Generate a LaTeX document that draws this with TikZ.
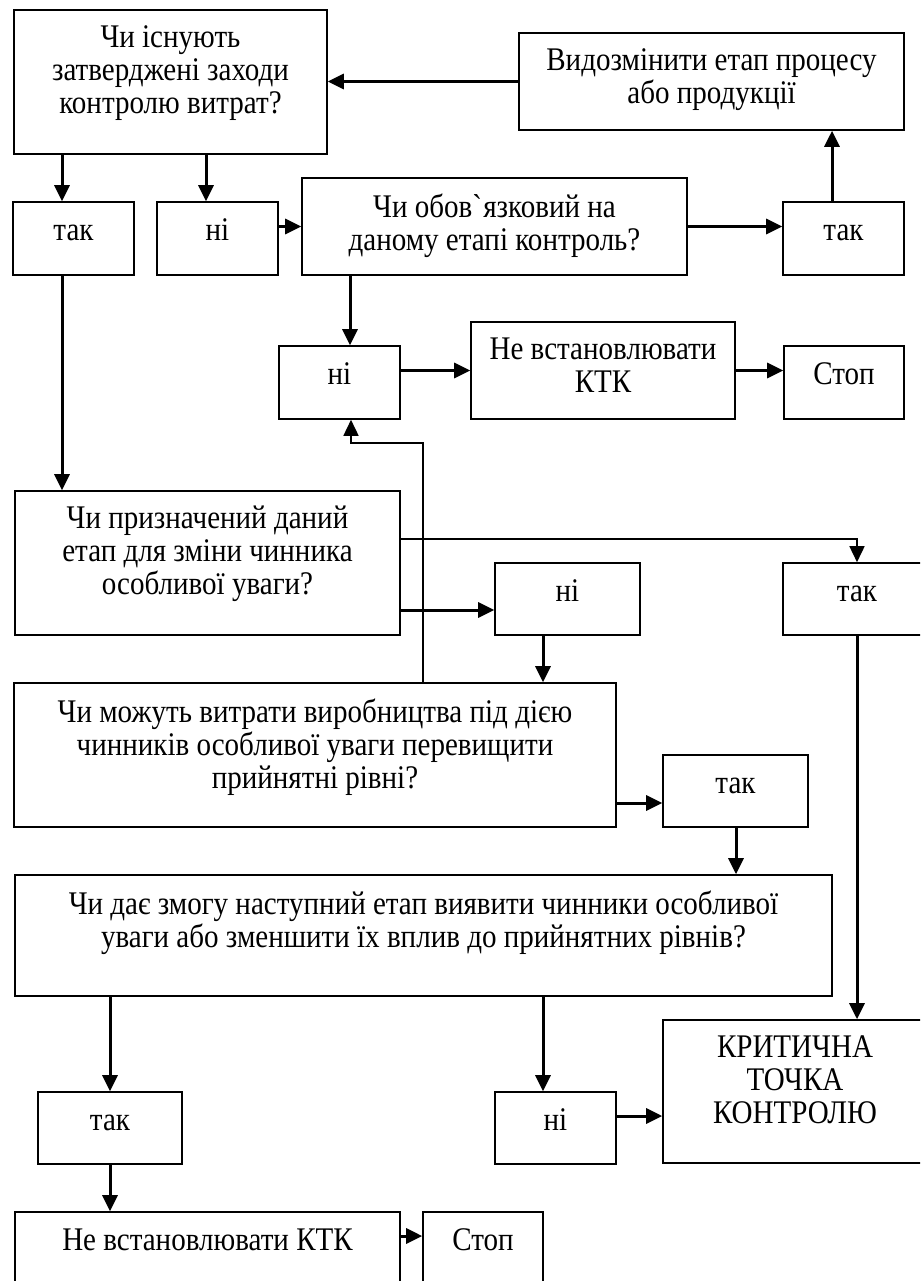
\documentclass[tikz,border=0pt]{standalone}
\usepackage{fontspec}
\setmainfont[FakeStretch=0.88]{Liberation Serif}
\usetikzlibrary{arrows.meta,positioning}

\tikzset{
  box/.style={draw, line width=1.6pt, inner sep=0pt},
  txt/.style={align=center, inner sep=0pt, font=\fontsize{33}{33}\selectfont, execute at begin node=\strut},
  arr/.style={line width=3pt, -{Triangle[length=16pt,width=15pt]}},
  thinarr/.style={line width=1.6pt, -{Triangle[length=16pt,width=15pt]}},
}

\begin{document}
\begin{tikzpicture}[x=1pt,y=-1pt]
\useasboundingbox (0,0) rectangle (920,1281);
\clip (0,0) rectangle (920,1281);

% boxes
\node[box, minimum width=313pt, minimum height=144pt] (q1) at (170.5,82) {};
\node[box, minimum width=385pt, minimum height=97pt] (modify) at (711.5,81.5) {};
\node[box, minimum width=121pt, minimum height=73pt] (yes1) at (73.5,238.5) {};
\node[box, minimum width=121pt, minimum height=73pt] (no1) at (217.5,238.5) {};
\node[box, minimum width=385pt, minimum height=97pt] (q2) at (494.5,226.5) {};
\node[box, minimum width=121pt, minimum height=73pt] (yes2) at (843.5,238.5) {};
\node[box, minimum width=121pt, minimum height=73pt] (no2) at (339.5,382.5) {};
\node[box, minimum width=264pt, minimum height=97pt] (skip1) at (603,370.5) {};
\node[box, minimum width=120pt, minimum height=73pt] (stop1) at (844,382.5) {};
\node[box, minimum width=385pt, minimum height=144pt] (q3) at (207.5,563) {};
\node[box, minimum width=145pt, minimum height=72pt] (no3) at (567.5,599) {};
\node[box, minimum width=148pt, minimum height=72pt] (yes3) at (857,599) {};
\node[box, minimum width=602pt, minimum height=144pt] (q4) at (315,755) {};
\node[box, minimum width=145pt, minimum height=72pt] (yes4) at (735.5,791) {};
\node[box, minimum width=817pt, minimum height=121pt] (q5) at (423.5,935.5) {};
\node[box, minimum width=144pt, minimum height=72pt] (yes5) at (110,1128) {};
\node[box, minimum width=121pt, minimum height=72pt] (no5) at (555.5,1128) {};
\node[box, minimum width=264pt, minimum height=143pt] (ctp) at (795,1091.5) {};
\node[box, minimum width=385pt, minimum height=97pt] (skip2) at (207.5,1260.5) {};
\node[box, minimum width=120pt, minimum height=73pt] (stop2) at (483,1248.5) {};

% texts
\node[txt, below=16pt of q1.north] (q1t) {Чи існують\\затверджені заходи\\контролю витрат?};
\node[txt, below=16pt of modify.north] (modifyt) {Видозмінити етап процесу\\або продукції};
\node[txt, below=16pt of yes1.north] (yes1t) {так};
\node[txt, below=16pt of no1.north] (no1t) {ні};
\node[txt, below=16pt of q2.north] (q2t) {Чи обов\textasciigrave язковий на\\даному етапі контроль?};
\node[txt, below=16pt of yes2.north] (yes2t) {так};
\node[txt, below=16pt of no2.north] (no2t) {ні};
\node[txt, below=16pt of skip1.north] (skip1t) {Не встановлювати\\КТК};
\node[txt, below=16pt of stop1.north] (stop1t) {Стоп};
\node[txt, below=16pt of q3.north] (q3t) {Чи призначений даний\\етап для зміни чинника\\особливої уваги?};
\node[txt, below=16pt of no3.north] (no3t) {ні};
\node[txt, below=16pt of yes3.north] (yes3t) {так};
\node[txt, below=16pt of q4.north] (q4t) {Чи можуть витрати виробництва під дією\\чинників особливої уваги перевищити\\прийнятні рівні?};
\node[txt, below=16pt of yes4.north] (yes4t) {так};
\node[txt, below=16pt of q5.north] (q5t) {Чи дає змогу наступний етап виявити чинники особливої\\уваги або зменшити їх вплив до прийнятних рівнів?};
\node[txt, below=16pt of yes5.north] (yes5t) {так};
\node[txt, below=16pt of no5.north] (no5t) {ні};
\node[txt, below=16pt of ctp.north] (ctpt) {КРИТИЧНА\\ТОЧКА\\КОНТРОЛЮ};
\node[txt, below=16pt of skip2.north] (skip2t) {Не встановлювати КТК};
\node[txt, below=16pt of stop2.north] (stop2t) {Стоп};

% connectors
\draw[arr] (modify.west) -- (q1.east |- modify.west);
\draw[arr] (62,0 |- q1.south) -- (62,0 |- yes1.north);
\draw[arr] (206,0 |- q1.south) -- (206,0 |- no1.north);
\draw[arr] (no1.east |- q2.west) -- (q2.west);
\draw[arr] (q2.east) -- (yes2.west |- q2.east);
\draw[arr] (832,0 |- yes2.north) -- (832,0 |- modify.south);
\draw[arr] (350,0 |- q2.south) -- (350,0 |- no2.north);
\draw[arr] (no2.east |- skip1.west) -- (skip1.west);
\draw[arr] (skip1.east) -- (stop1.west |- skip1.east);
\draw[arr] (62,0 |- yes1.south) -- (62,0 |- q3.north);
\draw[thinarr] (q3.east |- 0,539) -| (yes3.north);
\draw[arr] (q3.east |- 0,610) -- (no3.west |- 0,610);
\draw[arr] (543,0 |- no3.south) -- (543,0 |- q4.north);
\draw[thinarr] (423,0 |- q4.north) |- (351,443) -- (351,0 |- no2.south);
\draw[arr] (q4.east |- 0,803) -- (yes4.west |- 0,803);
\draw[arr] (736,0 |- yes4.south) -- (736,0 |- q5.north);
\draw[arr] (yes3.south) -- (yes3.south |- ctp.north);
\draw[arr] (yes5.north |- q5.south) -- (yes5.north);
\draw[arr] (543,0 |- q5.south) -- (543,0 |- no5.north);
\draw[arr] (no5.east |- 0,1116) -- (ctp.west |- 0,1116);
\draw[arr] (yes5.south) -- (yes5.south |- skip2.north);
\draw[arr] (skip2.east |- 0,1236) -- (stop2.west |- 0,1236);

\end{tikzpicture}
\end{document}
